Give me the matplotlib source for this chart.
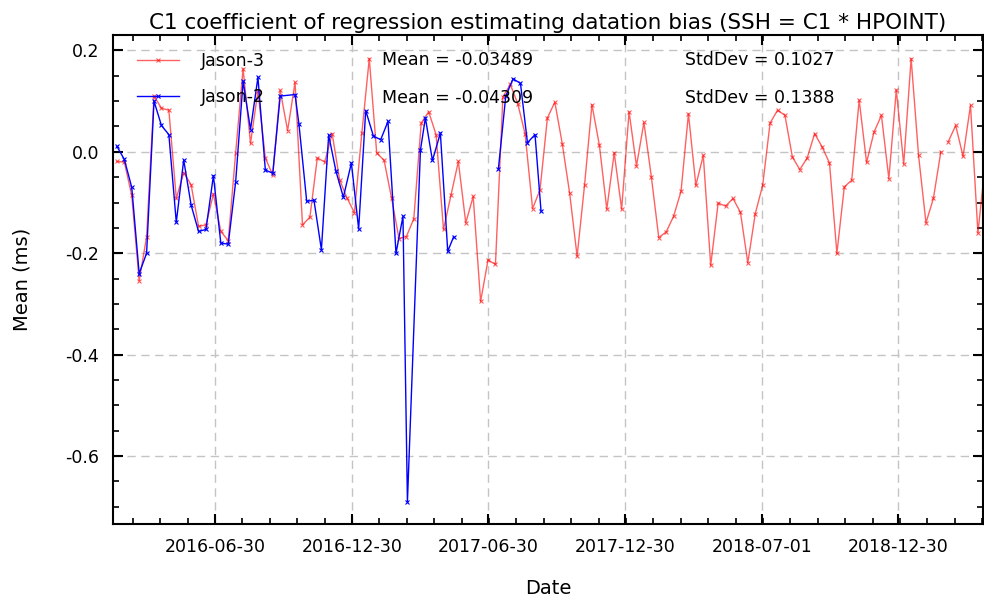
import numpy as np
import pandas as pd
import matplotlib
matplotlib.use("Agg")
import matplotlib.pyplot as plt
import matplotlib.dates as mdates
from matplotlib.ticker import AutoMinorLocator, FixedLocator, MultipleLocator

# Jason-3: one value per ~9.9156 day cycle, starting 2016-02-20
j3_start = "2016-02-20"
cycle_days = 9.9156
j3_c1 = [-0.019, -0.020, -0.086, -0.254, -0.168, 0.110, 0.086, 0.082, -0.092, -0.041,
         -0.065, -0.147, -0.144, -0.083, -0.157, -0.175, -0.002, 0.164, 0.017, 0.120,
         -0.012, -0.046, 0.121, 0.042, 0.137, -0.144, -0.129, -0.012, -0.020, 0.036,
         -0.055, -0.091, -0.120, 0.037, 0.184, -0.002, -0.017, -0.091, -0.171, -0.167,
         -0.132, 0.057, 0.079, 0.034, -0.153, -0.086, -0.019, -0.140, -0.088, -0.295,
         -0.213, -0.222, 0.108, 0.133, 0.095, 0.035, -0.112, -0.075, 0.067, 0.098,
         0.016, -0.082, -0.206, -0.066, 0.093, 0.013, -0.113, -0.002, -0.113, 0.079,
         -0.028, 0.058, -0.049, -0.169, -0.158, -0.127, -0.078, 0.075, -0.066, -0.007,
         -0.224, -0.101, -0.107, -0.092, -0.119, -0.219, -0.122, -0.066, 0.057, 0.082,
         0.072, -0.010, -0.035, -0.012, 0.036, 0.010, -0.022, -0.200, -0.069, -0.056,
         0.102, -0.021, 0.039, 0.072, -0.053, 0.122, -0.024, 0.184, -0.007, -0.140,
         -0.092, 0.000, 0.020, 0.052, -0.009, 0.092, -0.160, -0.020]
j3_break_after = 111  # no data link between these two cycles

# Jason-2: position expressed on the Jason-3 cycle grid (interleaved orbit after cycle 24)
j2_pos = [0, 1, 2, 3, 4, 5, 6, 7, 8, 9, 10, 11, 12, 13, 14, 15, 16, 17, 18, 19,
          20, 21, 22, 24,
          24.53, 25.57, 26.55, 27.55, 28.53, 29.51, 30.51, 31.59, 32.57, 33.52,
          34.56, 35.54, 36.52, 37.60, 38.54, 39.14, 40.89, 41.56, 42.51, 43.58,
          44.57, 45.38, 48.0,
          51.40, 52.39, 53.37, 54.37, 55.31, 56.33, 57.14]
j2_c1 = [0.011, -0.015, -0.070, -0.240, -0.200, 0.100, 0.052, 0.034, -0.139, -0.016,
         -0.105, -0.157, -0.153, -0.047, -0.180, -0.182, -0.059, 0.139, 0.044, 0.147,
         -0.036, -0.042, 0.110, 0.113,
         0.054, -0.0975, -0.0955, -0.193, 0.033, -0.038, -0.0895, -0.022, -0.152, 0.0815,
         0.031, 0.024, 0.060, -0.200, -0.127, -0.690, 0.003, 0.067, -0.017, 0.037,
         -0.196, -0.167, np.nan,
         -0.033, 0.110, 0.144, 0.135, 0.018, 0.034, -0.117]

stats = [("Mean = -0.03489", "StdDev = 0.1027"),
         ("Mean = -0.04309", "StdDev = 0.1388")]
tick_dates = ["2016-06-30", "2016-12-30", "2017-06-30", "2017-12-30", "2018-07-01", "2018-12-30"]


def to_dates(pos):
    pos = np.asarray(pos, dtype=float)
    return pd.Timestamp(j3_start) + pd.to_timedelta(pos * cycle_days, unit="D")


j3_pos = np.arange(len(j3_c1), dtype=float)
j3_vals = np.array(j3_c1, dtype=float)
j3_pos = np.insert(j3_pos, j3_break_after + 1, j3_break_after + 0.5)
j3_vals = np.insert(j3_vals, j3_break_after + 1, np.nan)

fig = plt.figure(figsize=(9.84, 6.01), dpi=100)
ax = fig.add_axes([0.115, 0.128, 0.884, 0.813])

ax.plot(to_dates(j3_pos), j3_vals, color="red", alpha=0.62, lw=1.0,
        marker="x", ms=3.5, mew=0.8, label="Jason-3")
ax.plot(to_dates(j2_pos), j2_c1, color="blue", lw=1.0,
        marker="x", ms=3.5, mew=0.8, label="Jason-2")

ax.set_xlim(pd.Timestamp("2016-02-15"), pd.Timestamp("2019-04-22"))
ax.set_ylim(-0.734, 0.2295)

major = mdates.date2num(pd.to_datetime(tick_dates))
ax.xaxis.set_major_locator(FixedLocator(major))
ax.set_xticklabels(tick_dates)
ax.xaxis.set_minor_locator(AutoMinorLocator(5))
ax.yaxis.set_major_locator(MultipleLocator(0.2))
ax.yaxis.set_minor_locator(AutoMinorLocator(4))
ax.set_yticks([0.2, 0.0, -0.2, -0.4, -0.6])
ax.set_yticklabels(["0.2", "0.0", "-0.2", "-0.4", "-0.6"])

ax.tick_params(which="both", direction="in", top=True, right=True, labelsize=12.5, pad=10)
ax.tick_params(which="major", length=7, width=1.5)
ax.tick_params(which="minor", length=4, width=1.2)
for s in ax.spines.values():
    s.set_linewidth(1.5)

ax.grid(True, which="major", color="#c4c4c4", ls=(0, (6, 4)), lw=1.0)

ax.set_title("C1 coefficient of regression estimating datation bias (SSH = C1 * HPOINT)",
             fontsize=15.5, pad=5)
ax.set_xlabel("Date", fontsize=14)
ax.set_ylabel("Mean (ms)", fontsize=14)
ax.xaxis.set_label_coords(0.5, -0.112)
ax.yaxis.set_label_coords(-0.094, 0.5)

ax.legend(loc="upper left", frameon=False, fontsize=12.5, handlelength=2.4,
          handletextpad=1.25, labelspacing=1.05, borderaxespad=0.4,
          bbox_to_anchor=(0.012, 0.995))

for i, (m, sd) in enumerate(stats):
    y = 0.95 - i * 0.077
    ax.text(0.309, y, m, transform=ax.transAxes, fontsize=12.5, va="center")
    ax.text(0.657, y, sd, transform=ax.transAxes, fontsize=12.5, va="center")

fig.savefig("out.png", dpi=100)
